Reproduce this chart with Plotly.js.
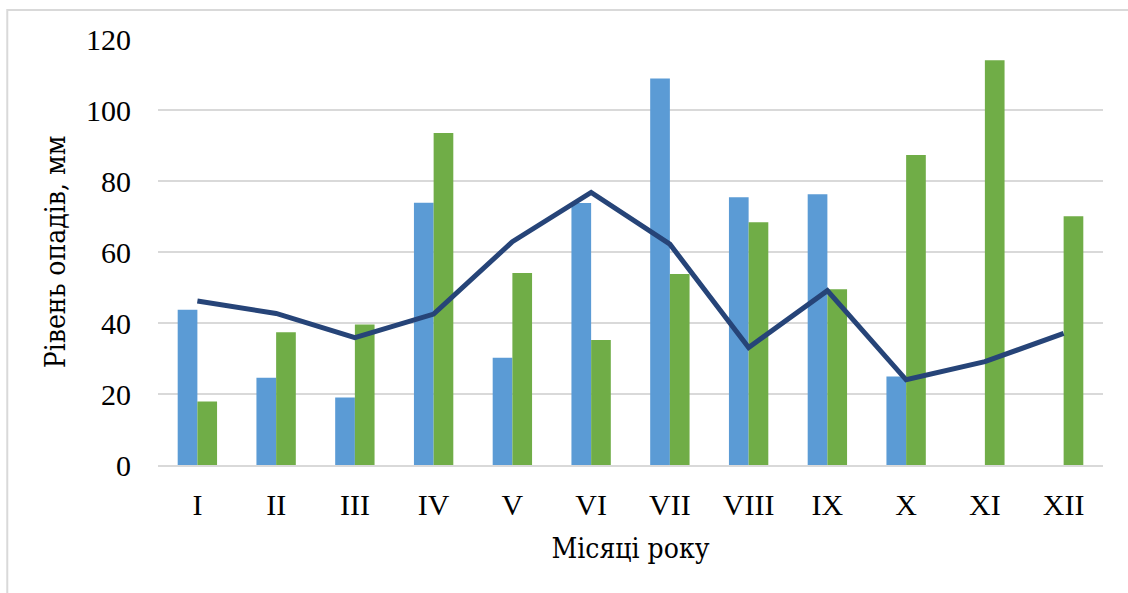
<!DOCTYPE html>
<html>
<head>
<meta charset="utf-8">
<script src="https://cdn.plot.ly/plotly-3.0.1.min.js"></script>
<style>html,body{margin:0;padding:0;background:#fff;}#chart{width:1128px;height:593px;}</style>
</head>
<body>
<div id="chart"></div>
<script>
const months = ["I","II","III","IV","V","VI","VII","VIII","IX","X","XI","XII"];
const seriesBlue = [43.7, 24.6, 19.0, 73.9, 30.2, 73.8, 108.9, 75.4, 76.3, 24.9, null, null];
const seriesGreen = [17.9, 37.4, 39.6, 93.5, 54.1, 35.2, 53.8, 68.4, 49.5, 87.3, 114.0, 70.1];
const seriesLine = [46.2, 42.7, 35.9, 42.5, 62.9, 76.8, 62.2, 33.1, 49.1, 24.0, 29.1, 37.1];
const yTicks = [0, 20, 40, 60, 80, 100, 120];

const font = "Liberation Serif, serif";
const titleFont = "DejaVu Serif Condensed, DejaVu Serif";
const traces = [
  {type:"bar", x:months, y:seriesBlue, marker:{color:"#5B9BD5"}, name:"1", hoverinfo:"y"},
  {type:"bar", x:months, y:seriesGreen, marker:{color:"#70AD47"}, name:"2", hoverinfo:"y"},
  {type:"scatter", mode:"lines", x:months, y:seriesLine, line:{color:"#264478", width:5}, name:"3", connectgaps:true}
];
const layout = {
  width:1128, height:593,
  margin:{l:158, r:25, t:39, b:128},
  paper_bgcolor:"#ffffff", plot_bgcolor:"#ffffff",
  showlegend:false,
  barmode:"group", bargap:0.5, bargroupgap:0,
  font:{family:font, size:30, color:"#000"},
  xaxis:{
    type:"category", showgrid:false, zeroline:false,
    showline:true, linecolor:"#d9d9d9", linewidth:2,
    ticks:"", tickfont:{family:font, size:30}, ticklabelstandoff:12,
    title:{text:"Місяці року", font:{family:titleFont, size:28}, standoff:18}
  },
  yaxis:{
    range:[0,120], tickvals:yTicks, ticktext:yTicks.map(String),
    showgrid:true, gridcolor:"#d9d9d9", gridwidth:2, zeroline:false,
    showline:false, ticks:"", tickfont:{family:font, size:30}, ticklabelstandoff:26,
    title:{text:"Рівень опадів, мм", font:{family:titleFont, size:28}, standoff:12}
  },
  shapes:[{type:"rect", xref:"paper", yref:"paper", x0:-0.1595, x1:1.5, y0:-1.0, y1:1.068, line:{color:"#d9d9d9", width:2}, layer:"below"}]
};
Plotly.newPlot("chart", traces, layout, {staticPlot:true});
</script>
</body>
</html>
